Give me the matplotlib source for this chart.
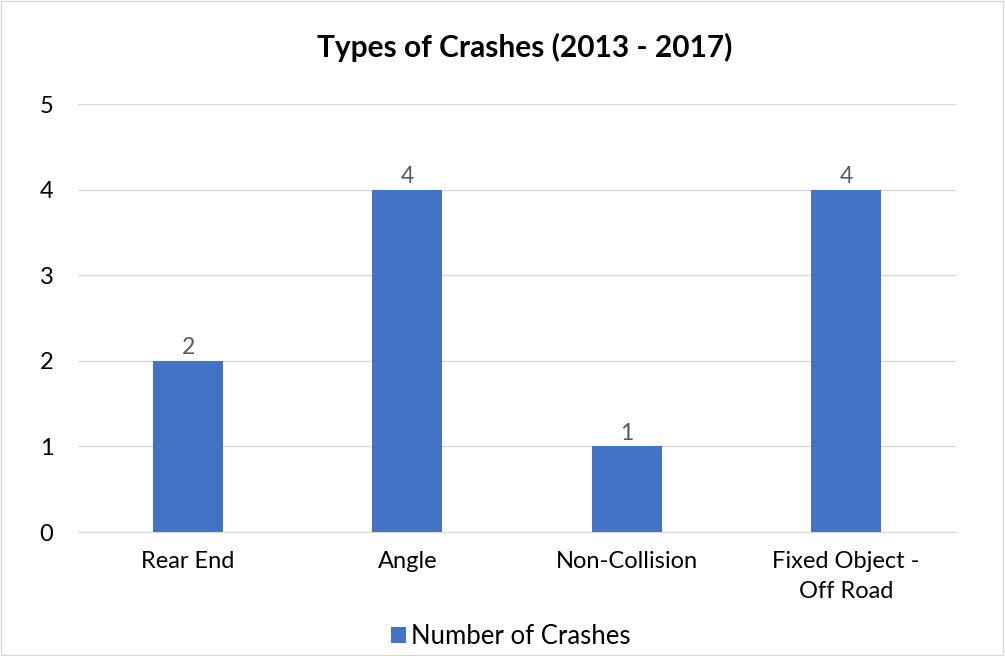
import matplotlib.pyplot as plt
from matplotlib.patches import Rectangle

plt.rcParams['font.family'] = ['Lato', 'DejaVu Sans']

# chart data
categories = ['Rear End', 'Angle', 'Non-Collision', 'Fixed Object -\nOff Road']
crashes = [2, 4, 1, 4]
yticks = [0, 1, 2, 3, 4, 5]

bar_color = '#4472C4'
grid_color = '#D9D9D9'
text_color = '#595959'

fig = plt.figure(figsize=(10.05, 6.56), dpi=100)
ax = fig.add_axes([0.078, 0.189, 0.873, 0.652])

x = range(len(categories))
bars = ax.bar(x, crashes, width=0.32, color=bar_color, zorder=3, label='Number of Crashes')

for b, v in zip(bars, crashes):
    ax.text(b.get_x() + b.get_width() / 2, v + 0.03, str(v), ha='center', va='bottom',
            fontsize=16.5, color=text_color)

ax.set_xlim(-0.5, len(categories) - 0.5)
ax.set_ylim(0, 5)
ax.set_yticks(yticks)
ax.set_yticklabels([str(t) for t in yticks], fontsize=17, color='black')
ax.set_xticks(list(x))
ax.set_xticklabels(categories, fontsize=17, color='black', linespacing=1.5)
ax.tick_params(axis='y', length=0, pad=18)
ax.tick_params(axis='x', length=0, pad=14)
ax.grid(axis='y', color=grid_color, linewidth=1, zorder=0)
for s in ['top', 'right', 'left']:
    ax.spines[s].set_visible(False)
ax.spines['bottom'].set_color(grid_color)
ax.spines['bottom'].set_zorder(4)

fig.text(0.522, 0.928, 'Types of Crashes (2013 - 2017)', ha='center', va='center',
         fontsize=21.5, fontweight='bold')

fig.legend(handles=[bars], labels=['Number of Crashes'], loc='center',
           bbox_to_anchor=(0.508, 0.03), frameon=False, fontsize=18.5,
           handlelength=0.6, handleheight=0.6, handletextpad=0.2)

fig.patches.append(Rectangle((0.001, 0.001), 0.997, 0.997, transform=fig.transFigure,
                             fill=False, edgecolor=grid_color, linewidth=1))

fig.savefig('out.png', dpi=100)
